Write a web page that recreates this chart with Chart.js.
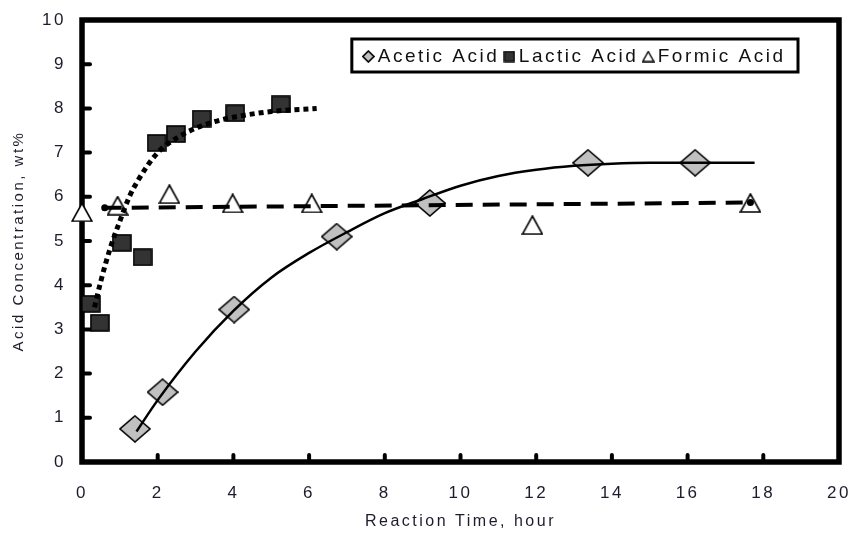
<!DOCTYPE html>
<html>
<head>
<meta charset="utf-8">
<script src="https://cdn.jsdelivr.net/npm/chart.js@4.4.1/dist/chart.umd.min.js"></script>
<style>
  html, body { margin: 0; padding: 0; background: #fff; }
  #wrap { width: 853px; height: 535px; }
</style>
</head>
<body>
<div id="wrap"><canvas id="chart" width="853" height="535"></canvas></div>
<script>
// 数据点
const aceticX = [1.40, 2.13, 4.02, 6.73, 9.19, 13.37, 16.20];
const aceticY = [0.75, 1.58, 3.45, 5.10, 5.86, 6.77, 6.77];
const lacticX = [0.23, 0.47, 1.05, 1.60, 1.97, 2.48, 3.16, 4.05, 5.25];
const lacticY = [3.58, 3.15, 4.96, 4.63, 7.22, 7.42, 7.77, 7.89, 8.09];
const formicX = [0.00, 0.94, 2.31, 3.98, 6.07, 11.90, 17.66];
const formicY = [5.65, 5.80, 6.06, 5.85, 5.85, 5.36, 5.86];

// 趋势线(沿曲线读取)
const aceticFitX = [1.44, 2, 3, 4, 5, 6, 7, 8, 9, 10, 11, 12, 13, 14, 15, 16, 17.77];
const aceticFitY = [0.69, 1.40, 2.50, 3.42, 4.17, 4.73, 5.20, 5.63, 5.95, 6.25, 6.47, 6.61, 6.70, 6.75, 6.77, 6.77, 6.77];
const lacticFitX = [0.33, 0.5, 0.75, 1, 1.25, 1.5, 2, 2.5, 3, 3.5, 4, 5, 6.2];
const lacticFitY = [3.50, 4.10, 4.85, 5.45, 6.00, 6.40, 7.00, 7.33, 7.55, 7.70, 7.80, 7.93, 8.00];
const formicFitX = [0.6, 17.66];
const formicFitY = [5.75, 5.87];

// 刻度
const xTickValues = [0, 2, 4, 6, 8, 10, 12, 14, 16, 18, 20];
const yTickValues = [0, 1, 2, 3, 4, 5, 6, 7, 8, 9, 10];

const FONT = 'Liberation Sans, Arial, sans-serif';
const TEXT = '#1c1c2c';

// 标记图形
function makeMarker(w, h, draw) {
  const c = document.createElement('canvas');
  c.width = w;
  c.height = h;
  draw(c.getContext('2d'), w, h);
  return c;
}
function diamond(fill, lw) {
  return (g, w, h) => {
    g.beginPath();
    g.moveTo(w / 2, 1); g.lineTo(w - 1, h / 2); g.lineTo(w / 2, h - 1); g.lineTo(1, h / 2);
    g.closePath();
    g.fillStyle = fill; g.fill();
    g.lineWidth = lw; g.strokeStyle = '#000'; g.stroke();
  };
}
function square(fill, lw) {
  return (g, w, h) => {
    g.fillStyle = fill; g.fillRect(1, 1, w - 2, h - 2);
    g.lineWidth = lw; g.strokeStyle = '#000'; g.strokeRect(1, 1, w - 2, h - 2);
  };
}
function triangle(fill, lw) {
  return (g, w, h) => {
    g.beginPath();
    g.moveTo(w / 2, 1); g.lineTo(w - 1, h - 1); g.lineTo(1, h - 1);
    g.closePath();
    g.fillStyle = fill; g.fill();
    g.lineWidth = lw; g.strokeStyle = '#000'; g.stroke();
  };
}
const diamondImg = makeMarker(32, 28, diamond('#c0c0c0', 1.6));
const squareImg = makeMarker(20, 18, square('#333333', 1.6));
const triangleImg = makeMarker(22, 20, triangle('#ffffff', 1.6));
const legendImgs = [
  makeMarker(13, 13, diamond('#c0c0c0', 1.6)),
  makeMarker(12, 12, square('#333333', 1.4)),
  makeMarker(13, 12, triangle('#ffffff', 1.4))
];

const toPoints = (xs, ys) => xs.map((x, i) => ({ x, y: ys[i] }));

// 边框、内刻度、图例框
const framePlugin = {
  id: 'frame',
  beforeUpdate(chart) {
    chart.ctx.letterSpacing = '2.5px';
    if (chart.legend) chart.legend.isHorizontal = () => true;
  },
  beforeDraw(chart) {
    chart.ctx.letterSpacing = '2.5px';
    const lg = chart.legend;
    lg.right = 795.5;
    lg.left = lg.right - lg.width;
    lg.top = 37;
    lg.bottom = lg.top + lg.height;
  },
  beforeDatasetsDraw(chart) {
    const { ctx, chartArea: a, scales: { x, y } } = chart;
    ctx.save();
    ctx.strokeStyle = '#000';
    ctx.lineCap = 'round';
    ctx.lineWidth = 4;
    xTickValues.slice(1, -1).forEach(v => {
      const px = x.getPixelForValue(v);
      ctx.beginPath(); ctx.moveTo(px, a.bottom); ctx.lineTo(px, a.bottom - 7); ctx.stroke();
    });
    yTickValues.slice(1, -1).forEach(v => {
      const py = y.getPixelForValue(v);
      ctx.beginPath(); ctx.moveTo(a.left, py); ctx.lineTo(a.left + 8, py); ctx.stroke();
    });
    ctx.lineCap = 'butt';
    ctx.lineWidth = 5.5;
    ctx.strokeRect(a.left, a.top, a.right - a.left, a.bottom - a.top);
    ctx.restore();
  },
  afterDraw(chart) {
    const lg = chart.legend;
    if (!lg || !lg.lineWidths) return;
    const left = lg.right - lg.lineWidths[0] - 16.5;
    const right = lg.right + 2.5;
    const ctx = chart.ctx;
    ctx.save();
    ctx.strokeStyle = '#000';
    ctx.lineWidth = 3;
    ctx.strokeRect(left, 39, right - left, 33);
    ctx.restore();
  }
};

new Chart(document.getElementById('chart'), {
  type: 'scatter',
  data: {
    datasets: [
      { label: 'Acetic Acid', data: toPoints(aceticX, aceticY), pointStyle: diamondImg, order: 1, clip: false },
      { label: 'Lactic Acid', data: toPoints(lacticX, lacticY), pointStyle: squareImg, order: 1, clip: false },
      { label: 'Formic Acid', data: toPoints(formicX, formicY), pointStyle: triangleImg, order: 1, clip: false },
      {
        label: 'acetic fit', isFit: true, data: toPoints(aceticFitX, aceticFitY), showLine: true,
        borderColor: '#000', borderWidth: 2.5, pointRadius: 0, cubicInterpolationMode: 'monotone', order: 0, clip: false
      },
      {
        label: 'lactic fit', isFit: true, data: toPoints(lacticFitX, lacticFitY), showLine: true,
        borderColor: '#000', borderWidth: 5, borderDash: [5, 4], pointRadius: 0, cubicInterpolationMode: 'monotone', order: 0, clip: false
      },
      {
        label: 'formic fit', isFit: true, data: toPoints(formicFitX, formicFitY), showLine: true,
        borderColor: '#000', borderWidth: 4, borderDash: [17, 10], pointRadius: 3.5, pointStyle: 'circle',
        pointBackgroundColor: '#000', pointBorderWidth: 0, order: 0, clip: false
      }
    ]
  },
  options: {
    responsive: false,
    animation: false,
    events: [],
    layout: { padding: { top: 20, right: 14, left: 0, bottom: 0 } },
    plugins: {
      tooltip: { enabled: false },
      legend: {
        position: 'chartArea',
        align: 'end',
        labels: {
          usePointStyle: true,
          pointStyleWidth: 0.01,
          boxHeight: 12,
          padding: 10,
          color: '#111',
          font: { family: FONT, size: 19 },
          filter: (item, data) => !data.datasets[item.datasetIndex].isFit,
          generateLabels(chart) {
            const items = Chart.defaults.plugins.legend.labels.generateLabels(chart);
            return items.map(it => ({ ...it, pointStyle: legendImgs[it.datasetIndex] || it.pointStyle }));
          }
        }
      }
    },
    scales: {
      x: {
        type: 'linear',
        min: 0,
        max: 20,
        afterBuildTicks: s => { s.ticks = xTickValues.map(v => ({ value: v })); },
        afterFit: s => { s.height = 73; s.paddingLeft = 0; s.paddingRight = 0; },
        grid: { display: false, drawTicks: false },
        border: { display: false },
        ticks: { autoSkip: false, maxRotation: 0, padding: 21, color: TEXT, font: { family: FONT, size: 17 } },
        title: {
          display: true, text: 'Reaction Time, hour', color: TEXT,
          font: { family: FONT, size: 16 }, padding: { top: 0, bottom: 4 }
        }
      },
      y: {
        type: 'linear',
        min: 0,
        max: 10,
        afterBuildTicks: s => { s.ticks = yTickValues.map(v => ({ value: v })); },
        afterFit: s => { s.width = 82; s.paddingTop = 0; s.paddingBottom = 0; },
        grid: { display: false, drawTicks: false },
        border: { display: false },
        ticks: { autoSkip: false, padding: 16, color: TEXT, font: { family: FONT, size: 17 } },
        title: {
          display: true, text: 'Acid Concentration, wt%', color: TEXT,
          font: { family: FONT, size: 15 }, padding: { top: 10, bottom: 0 }
        }
      }
    }
  },
  plugins: [framePlugin]
});
</script>
</body>
</html>
